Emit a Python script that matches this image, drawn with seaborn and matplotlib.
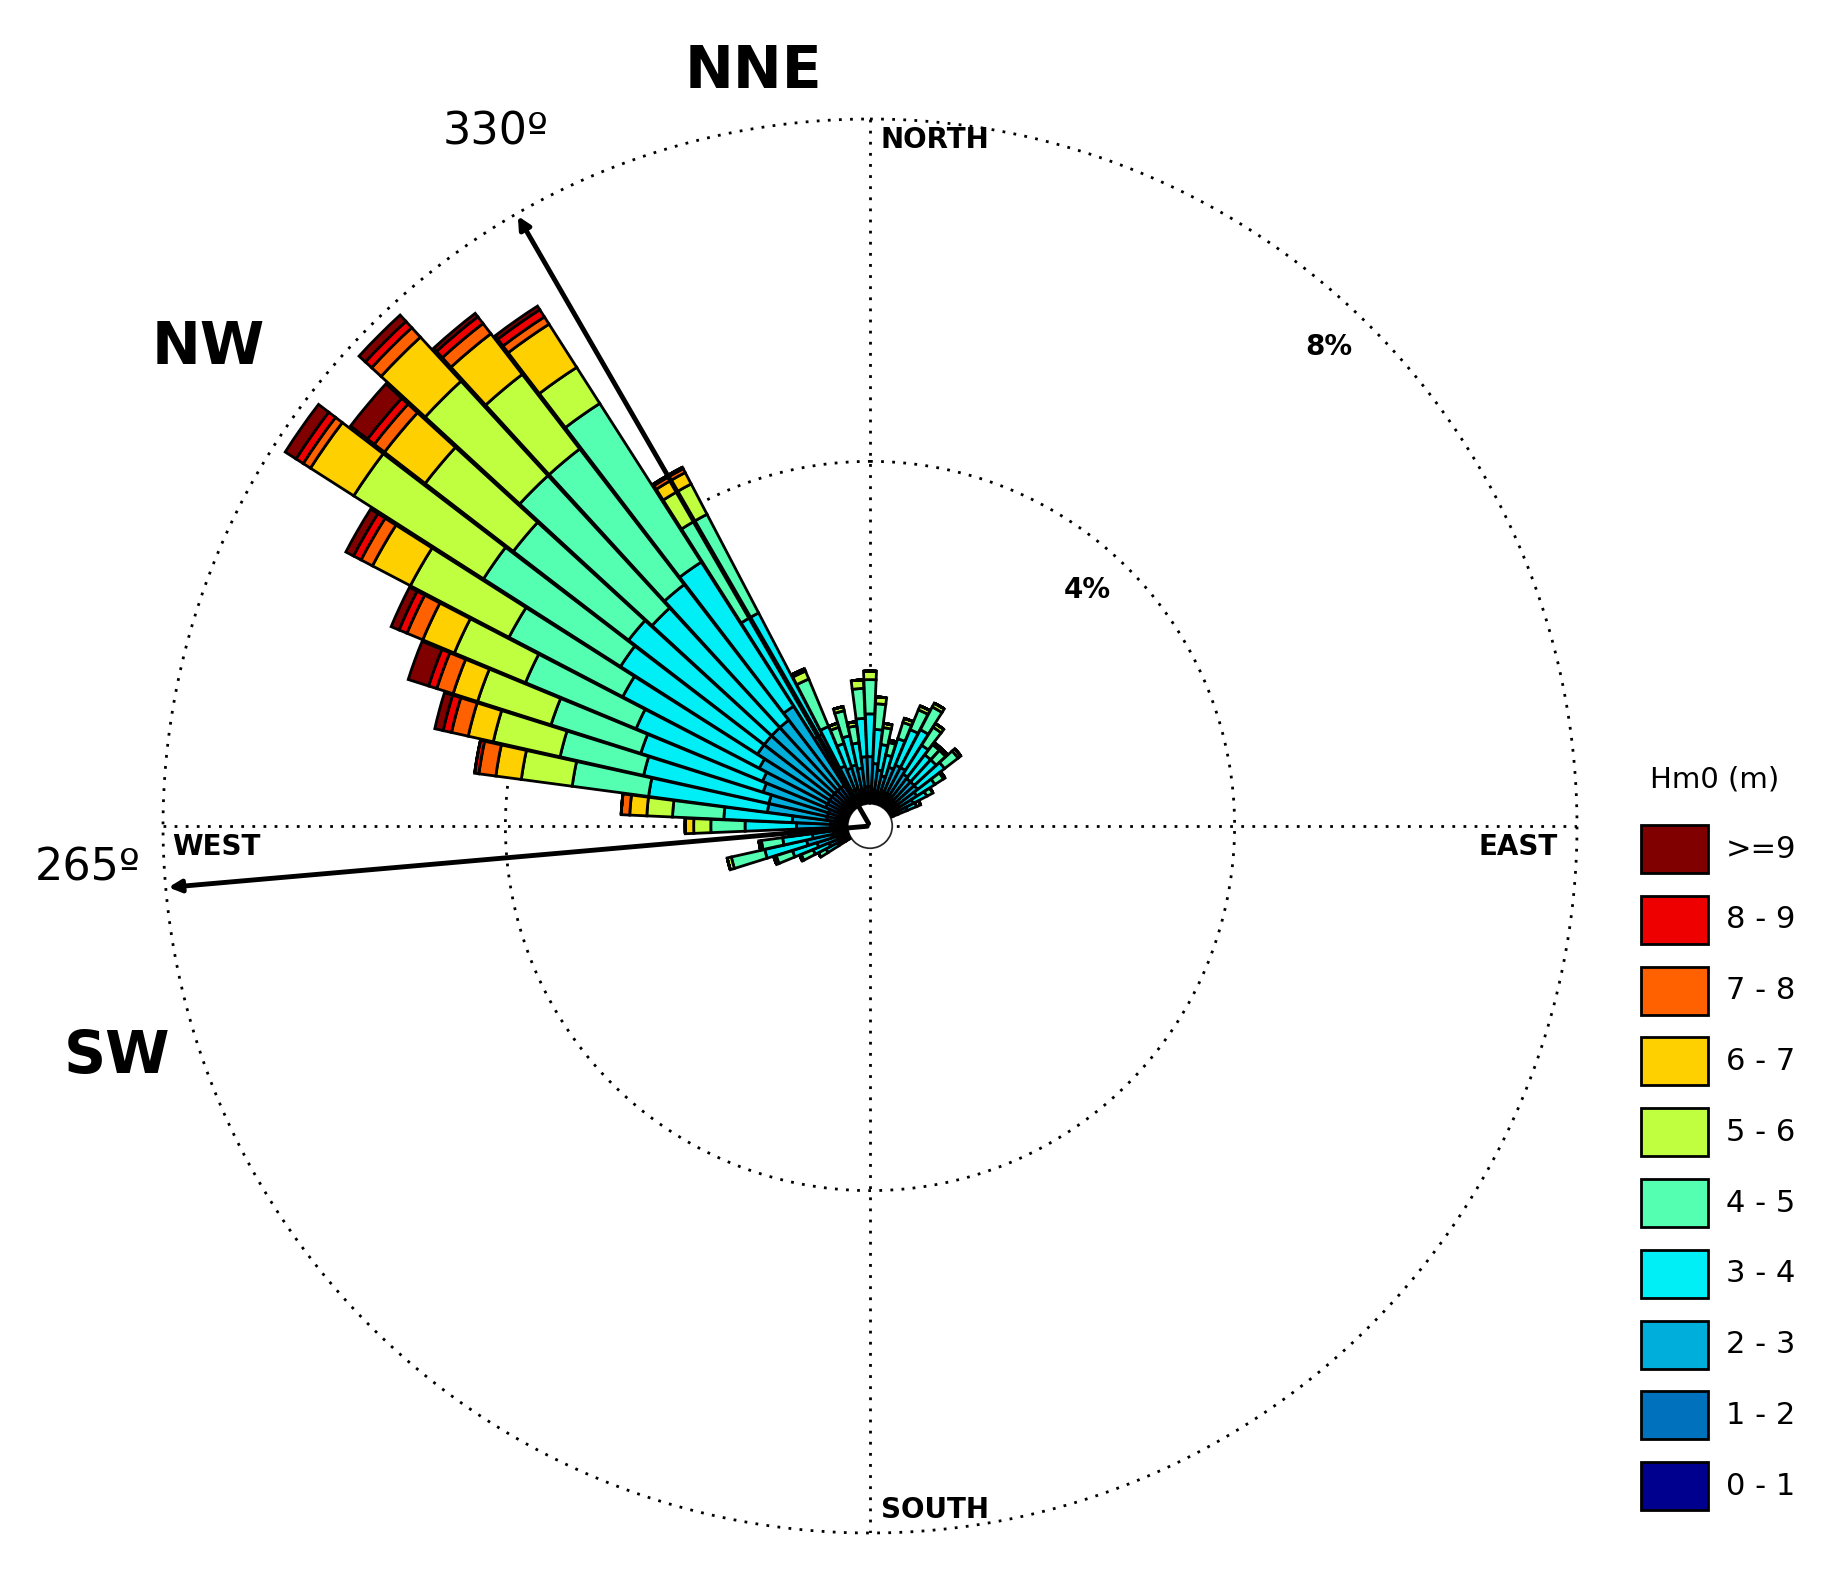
import numpy as np
import matplotlib
matplotlib.use("Agg")
import matplotlib.pyplot as plt
from matplotlib.patches import Rectangle
import seaborn as sns

# direction bins (deg, clockwise from north) and frequency (%) per Hm0 class
directions = [240, 245, 250, 255, 260, 265, 270, 275, 280, 285, 290, 295, 300, 305, 310,
              315, 320, 325, 330, 335, 340, 345, 350, 355, 0, 5, 10, 15, 20, 25,
              30, 35, 40, 45, 50, 55, 60, 65]
hm_0_1 = [.02, .03, .04, .05, .05, .05, .05, .05, .05, .05, .05, .05, .05, .05, .05,
          .05, .05, .05, .05, .05, .05, .05, .05, .05, .05, .05, .05, .04, .04, .04,
          .04, .04, .04, .04, .04, .04, .03, .03]
hm_1_2 = [.05, .08, .1, .15, .12, .12, .15, .15, .2, .2, .2, .25, .25, .25, .25,
          .25, .25, .25, .2, .15, .15, .12, .12, .15, .15, .12, .1, .1, .12, .12,
          .12, .12, .1, .1, .1, .1, .08, .06]
hm_2_3 = [.1, .15, .25, .3, .25, .2, .4, .45, .7, .7, .8, .8, .9, 1.0, 1.0,
          1.0, 1.0, 1.1, .7, .3, .25, .3, .25, .35, .35, .3, .25, .2, .3, .35,
          .35, .3, .3, .3, .3, .25, .2, .12]
hm_3_4 = [.15, .2, .3, .5, .35, .2, .6, .8, 1.4, 1.5, 1.5, 1.6, 1.8, 1.9, 2.0,
          1.9, 2.0, 2.0, 1.6, .5, .3, .35, .3, .45, .5, .4, .3, .25, .35, .45,
          .5, .4, .35, .35, .4, .25, .18, .12]
hm_4_5 = [.1, .15, .2, .4, .25, .1, .4, .6, .9, 1.0, 1.1, 1.4, 1.5, 1.9, 1.7,
          2.1, 2.0, 2.2, 1.3, .6, .2, .3, .2, .35, .4, .3, .2, .15, .2, .25,
          .3, .25, .15, .15, .2, .12, .08, .05]
hm_5_6 = [0, .02, .03, .05, .03, .02, .2, .3, .6, .8, .9, .9, 1.3, 1.8, 1.3,
          1.5, 1.1, .5, .4, .1, .05, .05, .05, .1, .1, .08, .05, .03, .05, .05,
          .05, .05, .03, .03, .04, .02, 0, 0]
hm_6_7 = [0, 0, 0, 0, 0, 0, .1, .2, .3, .3, .3, .4, .5, .6, .6,
          .7, .6, .6, .15, .03, 0, 0, 0, 0, 0, 0, 0, 0, 0, 0,
          0, 0, 0, 0, 0, 0, 0, 0]
hm_7_8 = [0, 0, 0, 0, 0, 0, 0, .1, .2, .2, .2, .2, .15, .1, .15,
          .15, .15, .1, .05, 0, 0, 0, 0, 0, 0, 0, 0, 0, 0, 0,
          0, 0, 0, 0, 0, 0, 0, 0]
hm_8_9 = [0, 0, 0, 0, 0, 0, 0, 0, .05, .1, .1, .1, .1, .1, .1,
          .1, .1, .1, .02, 0, 0, 0, 0, 0, 0, 0, 0, 0, 0, 0,
          0, 0, 0, 0, 0, 0, 0, 0]
hm_9_up = [0, 0, 0, 0, 0, 0, 0, 0, 0, .1, .25, .1, .1, .15, .25,
           .1, .05, .05, 0, 0, 0, 0, 0, 0, 0, 0, 0, 0, 0, 0,
           0, 0, 0, 0, 0, 0, 0, 0]

classes = [hm_0_1, hm_1_2, hm_2_3, hm_3_4, hm_4_5, hm_5_6, hm_6_7, hm_7_8, hm_8_9, hm_9_up]
class_labels = ["0 - 1", "1 - 2", "2 - 3", "3 - 4", "4 - 5", "5 - 6", "6 - 7", "7 - 8", "8 - 9", ">=9"]
class_colors = ["#00008F", "#0072BD", "#00AEDB", "#00EEF6", "#55FFB1", "#C0FF40",
                "#FFD000", "#FF6000", "#EE0000", "#800000"]

sns.set_theme(style="white")
plt.rcParams["font.family"] = ["DejaVu Sans"]
plt.rcParams["text.color"] = "black"

W, H = 1822, 1574
fig = plt.figure(figsize=(W / 100, H / 100), dpi=100)
cx, cy, R = 870, 826, 707
ax = fig.add_axes([(cx - R) / W, (H - cy - R) / H, 2 * R / W, 2 * R / H], projection="polar")
ax.set_theta_zero_location("N")
ax.set_theta_direction(-1)
ax.set_ylim(0, 8)
ax.set_rorigin(-0.26)

theta = np.deg2rad(directions)
bottom = np.zeros(len(directions))
for vals, col in zip(classes, class_colors):
    vals = np.array(vals)
    ax.bar(theta, vals, width=np.deg2rad(4.8), bottom=bottom, color=col,
           edgecolor="black", linewidth=2, align="center", zorder=3)
    bottom += vals

# dotted rings and cross lines
t = np.linspace(0, 2 * np.pi, 400)
for r in [4, 8]:
    ax.plot(t, np.full_like(t, r), color="black", ls=(0, (1, 3)), lw=2, zorder=1, clip_on=False)
ax.plot([0.5, 0.5], [0, 1], transform=ax.transAxes, color="black", ls=(0, (1, 3)), lw=2, zorder=1)
ax.plot([0, 1], [0.5, 0.5], transform=ax.transAxes, color="black", ls=(0, (1, 3)), lw=2, zorder=1)
ax.grid(False)
ax.set_xticklabels([])
ax.set_yticklabels([])
ax.spines["polar"].set_visible(False)
ax.set_facecolor("none")

for ang in [330, 265]:
    ax.annotate("", xy=(np.deg2rad(ang), 8), xytext=(np.deg2rad(ang), -0.26),
                arrowprops=dict(arrowstyle="-|>", color="black", lw=3.5, mutation_scale=18),
                zorder=5, annotation_clip=False)

def ftxt(x, y, s, **kw):
    fig.text(x / W, 1 - y / H, s, ha="center", va="center", color="black", **kw)

ftxt(753, 72, "NNE", fontsize=42, fontweight="bold")
ftxt(208, 347, "NW", fontsize=42, fontweight="bold")
ftxt(117, 1057, "SW", fontsize=42, fontweight="bold")
ftxt(496, 132, "330º", fontsize=32)
ftxt(88, 868, "265º", fontsize=32)
ftxt(935, 140, "NORTH", fontsize=20, fontweight="bold")
ftxt(935, 1510, "SOUTH", fontsize=20, fontweight="bold")
ftxt(216, 847, "WEST", fontsize=20, fontweight="bold")
ftxt(1518, 847, "EAST", fontsize=20, fontweight="bold")
ftxt(1087, 590, "4%", fontsize=20, fontweight="bold")
ftxt(1329, 347, "8%", fontsize=20, fontweight="bold")

# legend
ftxt(1715, 779, "Hm0 (m)", fontsize=21)
for i, (lab, col) in enumerate(zip(class_labels[::-1], class_colors[::-1])):
    yc = (727 + 60.6 * i) * 1.168
    fig.patches.append(Rectangle(((1405 * 1.168) / W, 1 - (yc + 24) / H), 67 / W, 48 / H,
                                 transform=fig.transFigure, facecolor=col,
                                 edgecolor="black", linewidth=2))
    fig.text(1726 / W, 1 - yc / H, lab, ha="left", va="center", fontsize=22, color="black")

fig.savefig("out.png", dpi=100, facecolor="white")
